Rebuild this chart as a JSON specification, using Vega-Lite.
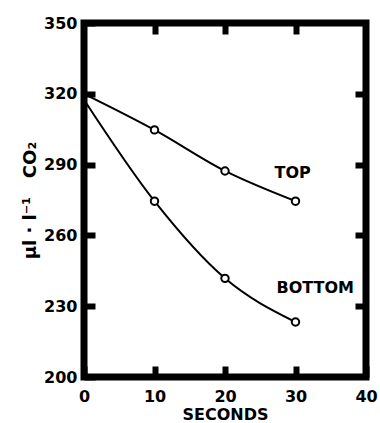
{
  "$schema": "https://vega.github.io/schema/vega-lite/v6.json",
  "width": 282,
  "height": 354,
  "autosize": {"type": "none"},
  "padding": {"left": 84, "top": 23, "right": 14, "bottom": 46},
  "background": "white",
  "config": {
    "view": {"stroke": "black", "strokeWidth": 7},
    "font": "DejaVu Sans",
    "axis": {
      "domain": false,
      "grid": false,
      "tickColor": "black",
      "tickWidth": 6,
      "tickSize": -11,
      "labelFont": "DejaVu Sans",
      "labelFontWeight": "bold",
      "labelFontSize": 16,
      "labelColor": "black",
      "titleFont": "DejaVu Sans",
      "titleFontWeight": "bold",
      "titleFontSize": 16,
      "titleColor": "black"
    }
  },
  "datasets": {
    "curves": [
      {"series": "TOP", "seconds": 0, "co2": 320},
      {"series": "TOP", "seconds": 10, "co2": 304.7},
      {"series": "TOP", "seconds": 20, "co2": 287.3},
      {"series": "TOP", "seconds": 30, "co2": 274.5},
      {"series": "BOTTOM", "seconds": 0, "co2": 317.5},
      {"series": "BOTTOM", "seconds": 10, "co2": 274.5},
      {"series": "BOTTOM", "seconds": 20, "co2": 241.8},
      {"series": "BOTTOM", "seconds": 30, "co2": 223.3}
    ],
    "labels": [
      {"label": "TOP", "seconds": 29.6, "co2": 286.4},
      {"label": "BOTTOM", "seconds": 32.8, "co2": 237.7}
    ]
  },
  "layer": [
    {
      "data": {"name": "curves"},
      "mark": {"type": "line", "color": "black", "strokeWidth": 2, "interpolate": "monotone"},
      "encoding": {
        "x": {"field": "seconds", "type": "quantitative",
          "scale": {"domain": [0, 40], "nice": false},
          "axis": {"orient": "bottom", "values": [0, 10, 20, 30, 40], "title": "SECONDS", "labelPadding": 22, "titlePadding": 2, "labelFlush": false}},
        "y": {"field": "co2", "type": "quantitative",
          "scale": {"domain": [200, 350], "nice": false, "zero": false},
          "axis": {"orient": "left", "values": [200, 230, 260, 290, 320, 350], "title": "µl\u00a0·\u00a0l⁻¹\u00a0\u00a0\u00a0CO₂", "titleFontSize": 18, "labelPadding": 18, "titlePadding": 4, "labelFlush": false}},
        "detail": {"field": "series", "type": "nominal"}
      }
    },
    {
      "data": {"name": "curves"},
      "transform": [{"filter": "datum.seconds > 0"}],
      "mark": {"type": "point", "shape": "circle", "filled": true, "fill": "white", "stroke": "black", "strokeWidth": 2, "size": 55, "opacity": 1},
      "encoding": {
        "x": {"field": "seconds", "type": "quantitative",
          "axis": {"orient": "top", "values": [10, 20, 30], "labels": false, "title": null}},
        "y": {"field": "co2", "type": "quantitative",
          "axis": {"orient": "right", "values": [230, 260, 290, 320], "labels": false, "title": null}}
      }
    },
    {
      "data": {"name": "labels"},
      "mark": {"type": "text", "font": "DejaVu Sans", "fontWeight": "bold", "fontSize": 16, "color": "black", "align": "center", "baseline": "middle"},
      "encoding": {
        "x": {"field": "seconds", "type": "quantitative", "axis": null},
        "y": {"field": "co2", "type": "quantitative", "axis": null},
        "text": {"field": "label"}
      }
    }
  ],
  "resolve": {"axis": {"x": "independent", "y": "independent"}}
}
